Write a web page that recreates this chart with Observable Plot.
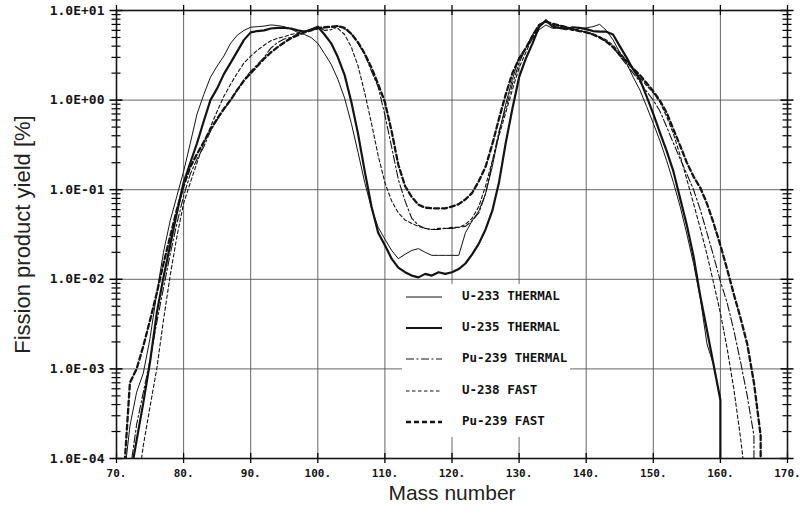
<!DOCTYPE html>
<html><head><meta charset="utf-8">
<script src="https://cdn.jsdelivr.net/npm/d3@7"></script>
<script src="https://cdn.jsdelivr.net/npm/@observablehq/plot@0.6"></script>
<style>
body{margin:0;background:#fff;}
#wrap{position:relative;width:803px;height:517px;overflow:hidden;}
#legend{position:absolute;left:402px;top:284px;width:168px;height:153px;background:#fff;}
.row{position:absolute;left:0;width:168px;height:20px;}
.row svg{position:absolute;left:3px;top:5px;}
.row span{position:absolute;left:60px;top:1px;font:bold 12.5px "DejaVu Sans Mono";color:#111;white-space:nowrap;}
</style></head>
<body><div id="wrap"><div id="legend"></div></div>
<script>
// ---- data (fission product chain yields, %) ----
const xTicks = [70,80,90,100,110,120,130,140,150,160,170];
const yDecades = [1e-4,1e-3,1e-2,1e-1,1e0,1e1];
const yMinor = [2e-4,3e-4,4e-4,5e-4,6e-4,7e-4,8e-4,9e-4,2e-3,3e-3,4e-3,5e-3,6e-3,7e-3,8e-3,9e-3,
  2e-2,3e-2,4e-2,5e-2,6e-2,7e-2,8e-2,9e-2,0.2,0.3,0.4,0.5,0.6,0.7,0.8,0.9,2,3,4,5,6,7,8,9];

const massU233 = [71,72,73,74,75,76,77,78,79,80,81,82,83,84,85,86,87,88,89,90,91,92,93,94,95,96,97,98,99,100,
  101,102,103,104,105,106,107,108,109,110,111,112,113,114,115,116,117,118,119,120,121,122,123,124,125,126,127,128,129,130,
  131,132,133,134,135,136,137,138,139,140,141,142,143,144,145,146,147,148,149,150,151,152,153,154,155,156,157,158,159,160,160];
const yieldU233 = [5e-5,2.3e-4,5.5e-4,9e-4,2.2e-3,7e-3,0.02,0.045,0.085,0.16,0.33,0.7,1.15,1.8,2.4,3.1,4.3,5.3,6.0,6.5,
  6.6,6.7,6.9,6.8,6.6,6.2,5.7,5.4,5.0,4.3,3.3,2.5,1.7,1.05,0.55,0.26,0.12,0.062,0.038,0.028,
  0.021,0.017,0.019,0.021,0.022,0.02,0.0185,0.0185,0.0185,0.0185,0.0185,0.033,0.045,0.058,0.09,0.18,0.42,0.9,1.7,3.0,
  3.8,4.8,6.1,6.9,6.3,6.4,6.6,6.0,6.3,6.4,6.6,7.0,6.0,4.7,3.4,2.6,1.8,1.3,0.85,0.55,
  0.35,0.21,0.12,0.065,0.032,0.015,0.0062,0.0019,0.0011,4.5e-4,1e-6];

const massU235 = [72,73,74,75,76,77,78,79,80,81,82,83,84,85,86,87,88,89,90,91,92,93,94,95,96,97,98,99,100,
  101,102,103,104,105,106,107,108,109,110,111,112,113,114,115,116,117,118,119,120,121,122,123,124,125,126,127,128,129,130,
  131,132,133,134,135,136,137,138,139,140,141,142,143,144,145,146,147,148,149,150,151,152,153,154,155,156,157,158,159,160,160];
const yieldU235 = [6e-5,1.6e-4,4.2e-4,1.2e-3,4.2e-3,0.0105,0.024,0.055,0.12,0.2,0.33,0.58,1.0,1.35,1.95,2.6,3.5,4.7,5.7,
  5.9,6.0,6.3,6.4,6.4,6.3,6.0,5.8,6.1,6.6,5.4,4.3,3.0,1.9,0.95,0.42,0.16,0.065,0.033,0.024,
  0.017,0.0135,0.012,0.011,0.0105,0.0115,0.011,0.012,0.0115,0.012,0.013,0.015,0.019,0.025,0.036,0.058,0.12,0.33,0.8,1.8,
  2.9,4.3,6.6,7.8,6.6,6.4,6.2,6.5,6.4,6.2,5.9,5.8,5.8,5.4,4.0,3.0,2.2,1.7,1.1,0.7,
  0.43,0.27,0.16,0.08,0.04,0.018,0.0065,0.0027,0.0011,4.5e-4,1e-6];

const massPu239T = [72,73,74,75,76,77,78,79,80,81,82,83,84,85,86,87,88,89,90,91,92,93,94,95,96,97,98,99,100,
  101,102,103,104,105,106,107,108,109,110,111,112,113,114,115,116,117,118,119,120,121,122,123,124,125,126,127,128,129,130,
  131,132,133,134,135,136,137,138,139,140,141,142,143,144,145,146,147,148,149,150,151,152,153,154,155,156,157,158,159,160,
  161,162,163,164,165,165];
const yieldPu239T = [7e-5,2.4e-4,5.5e-4,1.25e-3,3.3e-3,8e-3,0.019,0.042,0.085,0.15,0.22,0.3,0.45,0.6,0.78,1.0,1.3,1.7,2.1,
  2.5,3.0,3.8,4.4,4.8,5.0,5.5,5.8,6.2,6.6,6.0,6.1,6.7,6.2,5.5,4.3,3.2,2.1,1.4,0.68,
  0.3,0.13,0.075,0.048,0.04,0.037,0.036,0.036,0.037,0.037,0.038,0.039,0.045,0.055,0.09,0.2,0.45,0.8,1.5,2.6,
  3.8,5.4,7.0,7.6,7.0,6.8,6.6,6.2,6.0,5.7,5.4,5.0,4.5,3.9,3.1,2.5,2.0,1.6,1.25,1.0,
  0.75,0.5,0.33,0.22,0.15,0.1,0.06,0.033,0.018,0.0095,0.0055,0.0027,0.0012,5e-4,1.8e-4,1e-6];

const massU238F = [73,74,75,76,77,78,79,80,81,82,83,84,85,86,87,88,89,90,91,92,93,94,95,96,97,98,99,100,
  101,102,103,104,105,106,107,108,109,110,111,112,113,114,115,116,117,118,119,120,121,122,123,124,125,126,127,128,129,130,
  131,132,133,134,135,136,137,138,139,140,141,142,143,144,145,146,147,148,149,150,151,152,153,154,155,156,157,158,159,160,
  161,162,163,164];
const yieldU238F = [4e-5,1.4e-4,3.8e-4,1e-3,3.5e-3,0.011,0.03,0.07,0.12,0.2,0.33,0.5,0.75,1.1,1.5,2.0,2.6,3.1,
  3.6,4.1,4.6,4.9,5.1,5.4,5.6,5.9,6.1,6.2,6.4,6.5,6.3,5.4,3.9,2.4,1.2,0.55,0.24,0.12,
  0.075,0.055,0.046,0.042,0.039,0.037,0.036,0.037,0.037,0.038,0.038,0.041,0.048,0.065,0.11,0.21,0.4,0.72,1.3,2.3,
  3.4,5.0,6.6,7.6,6.9,6.5,6.2,6.0,5.9,5.8,5.5,5.1,4.7,4.1,3.4,2.8,2.2,1.8,1.45,1.2,
  0.95,0.65,0.42,0.24,0.13,0.07,0.037,0.019,0.009,0.0042,0.0017,6e-4,1.7e-4,4e-5];

const massPu239F = [71,72,73,74,75,76,77,78,79,80,81,82,83,84,85,86,87,88,89,90,91,92,93,94,95,96,97,98,99,100,
  101,102,103,104,105,106,107,108,109,110,111,112,113,114,115,116,117,118,119,120,121,122,123,124,125,126,127,128,129,130,
  131,132,133,134,135,136,137,138,139,140,141,142,143,144,145,146,147,148,149,150,151,152,153,154,155,156,157,158,159,160,
  161,162,163,164,165,166,166];
const yieldPu239F = [5e-5,7e-4,1.0e-3,1.8e-3,3.5e-3,7e-3,0.015,0.03,0.06,0.11,0.18,0.25,0.34,0.47,0.62,0.8,1.0,1.3,1.65,2.0,
  2.4,2.9,3.4,3.9,4.4,4.9,5.3,5.7,6.0,6.4,6.5,6.6,6.7,6.4,5.5,4.4,3.3,2.3,1.5,0.95,
  0.45,0.19,0.11,0.083,0.068,0.063,0.062,0.062,0.062,0.065,0.069,0.078,0.092,0.125,0.18,0.32,0.62,1.15,2.0,2.9,
  3.8,5.2,6.9,7.5,7.1,6.8,6.5,6.2,5.9,5.7,5.4,5.0,4.5,3.9,3.2,2.7,2.25,1.9,1.55,1.25,
  0.98,0.72,0.47,0.31,0.2,0.14,0.105,0.07,0.042,0.024,0.013,0.0068,0.0037,0.0019,7e-4,1.8e-4,1e-6];

const seriesNames = ["U-233 THERMAL","U-235 THERMAL","Pu-239 THERMAL","U-238 FAST","Pu-239 FAST"];

// ---- styles ----
const series = [
  {name: seriesNames[0], mass: massU233, yield: yieldU233, width: 1, dash: null},
  {name: seriesNames[1], mass: massU235, yield: yieldU235, width: 2.2, dash: null},
  {name: seriesNames[2], mass: massPu239T, yield: yieldPu239T, width: 1.1, dash: "8,2.5,2,2.5"},
  {name: seriesNames[3], mass: massU238F, yield: yieldU238F, width: 1.1, dash: "3.5,2.5"},
  {name: seriesNames[4], mass: massPu239F, yield: yieldPu239F, width: 2.3, dash: "5,3"}
];

const fmtE = d => { const e = Math.round(Math.log10(d)); return "1.0E" + (e < 0 ? "-" : "+") + String(Math.abs(e)).padStart(2, "0"); };
const mono = "DejaVu Sans Mono";
const ink = "#141414";
const xMin = xTicks[0], xMax = xTicks[xTicks.length - 1];
const yMin = yDecades[0], yMax = yDecades[yDecades.length - 1];

const lineMarks = series.map(s => Plot.line(
  s.mass.map((m, i) => ({mass: m, value: s.yield[i]})),
  {x: "mass", y: "value", stroke: ink, strokeWidth: s.width, strokeDasharray: s.dash, clip: true}
));

// ticks that cross the frame: zero-length rules widened by negative insets
const yTickMarks = (values, xAt, half, w) => Plot.ruleY(values, {y: d => d, x1: () => xAt, x2: () => xAt,
  insetLeft: -half, insetRight: -half, stroke: "black", strokeOpacity: 1, strokeWidth: w});
const xTickMarks = (values, yAt, half, w) => Plot.ruleX(values, {x: d => d, y1: () => yAt, y2: () => yAt,
  insetTop: -half, insetBottom: -half, stroke: "black", strokeOpacity: 1, strokeWidth: w});

const chart = Plot.plot({
  width: 803, height: 517,
  marginLeft: 116, marginRight: 16, marginTop: 10, marginBottom: 59,
  style: {background: "#fff", color: ink},
  x: {type: "linear", domain: [xMin, xMax]},
  y: {type: "log", domain: [yMin, yMax]},
  marks: [
    Plot.gridX({ticks: xTicks, stroke: "#555", strokeOpacity: 1, strokeWidth: 0.9}),
    Plot.gridY({ticks: yDecades, stroke: "#555", strokeOpacity: 1, strokeWidth: 0.9}),
    yTickMarks(yMinor, xMin, 4.5, 1.2),
    yTickMarks(yDecades, xMin, 6.5, 1.5),
    yTickMarks(yMinor, xMax, 4.5, 1.2),
    yTickMarks(yDecades, xMax, 6.5, 1.5),
    xTickMarks(xTicks, yMin, 5, 1.3),
    xTickMarks(xTicks, yMax, 5, 1.3),
    Plot.frame({stroke: ink, strokeWidth: 1.6}),
    ...lineMarks,
    // tick labels
    Plot.axisY({anchor: "left", ticks: yDecades, tickSize: 0, tickPadding: 12, tickFormat: fmtE, label: null,
      fontFamily: mono, fontSize: 13, fontWeight: "bold", fill: ink}),
    Plot.axisX({anchor: "bottom", ticks: xTicks, tickSize: 0, tickPadding: 11, tickFormat: d => d + ".", label: null,
      fontFamily: mono, fontSize: 11, fontWeight: "bold", fill: ink}),
    // axis titles
    Plot.text(["Mass number"], {text: d => d, frameAnchor: "bottom", dy: 41, fontSize: 21,
      fontFamily: "Liberation Sans", fill: "#222"}),
    Plot.text(["Fission product yield [%]"], {text: d => d, frameAnchor: "left", textAnchor: "middle", rotate: -90, dx: -94,
      fontSize: 22, fontFamily: "Liberation Sans", fill: "#222"})
  ]
});
document.getElementById("wrap").prepend(chart);
chart.style.position = "absolute"; chart.style.left = "0"; chart.style.top = "0";

// ---- legend (inside plot area, white box) ----
const legend = document.getElementById("legend");
const rowTops = [3, 34, 65, 97, 128];
series.forEach((s, i) => {
  const row = document.createElement("div");
  row.className = "row";
  row.style.top = rowTops[i] + "px";
  row.innerHTML = `<svg width="38" height="10"><line x1="1" y1="5" x2="37" y2="5" stroke="${ink}" stroke-width="${s.width}" ${s.dash ? `stroke-dasharray="${s.dash}"` : ""}/></svg><span>${s.name}</span>`;
  legend.appendChild(row);
});
</script>
</body></html>
